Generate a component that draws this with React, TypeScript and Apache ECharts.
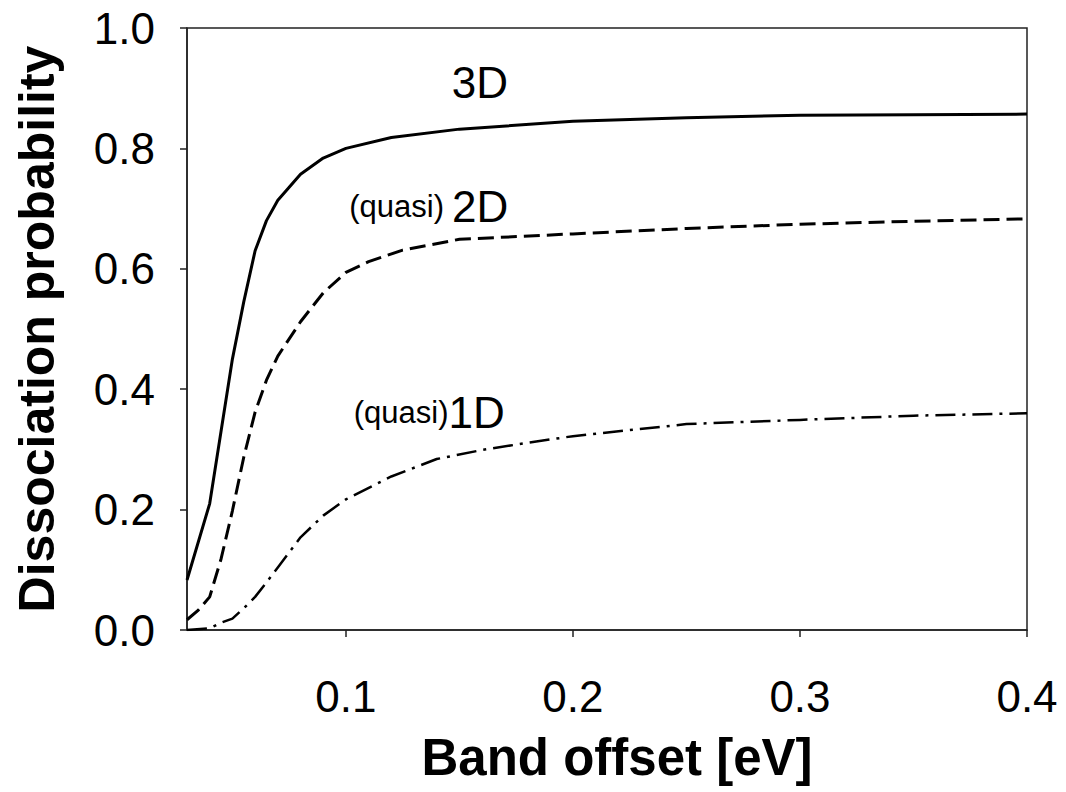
import React, { useEffect, useRef } from "react";
import * as echarts from "echarts";

// Band offset [eV] and dissociation probability
const x3D = [0.03, 0.04, 0.045, 0.05, 0.055, 0.06, 0.065, 0.07, 0.08, 0.09, 0.1, 0.12, 0.15, 0.2, 0.25, 0.3, 0.35, 0.4];
const y3D = [0.083, 0.21, 0.33, 0.45, 0.545, 0.63, 0.68, 0.714, 0.757, 0.784, 0.8, 0.818, 0.832, 0.845, 0.851, 0.855, 0.856, 0.857];

const x2D = [0.03, 0.035, 0.04, 0.045, 0.05, 0.055, 0.06, 0.065, 0.07, 0.08, 0.09, 0.1, 0.11, 0.125, 0.15, 0.2, 0.25, 0.3, 0.35, 0.4];
const y2D = [0.017, 0.033, 0.055, 0.118, 0.198, 0.287, 0.362, 0.415, 0.455, 0.512, 0.56, 0.594, 0.612, 0.631, 0.649, 0.658, 0.667, 0.674, 0.679, 0.683];

const x1D = [0.03, 0.04, 0.045, 0.05, 0.055, 0.06, 0.065, 0.07, 0.08, 0.09, 0.1, 0.12, 0.14, 0.16, 0.18, 0.2, 0.25, 0.3, 0.35, 0.4];
const y1D = [0.0, 0.003, 0.012, 0.019, 0.036, 0.055, 0.079, 0.104, 0.154, 0.19, 0.217, 0.255, 0.284, 0.299, 0.311, 0.322, 0.342, 0.349, 0.356, 0.36];

const xTicks = [0.1, 0.2, 0.3, 0.4];

// annotation anchors (data coordinates)
const label3D = [0.159, 0.909];
const label2D = [0.1365, 0.703];
const label1D = [0.1367, 0.362];

const FONT = 'Arial, "Liberation Sans", sans-serif';

const zip = (xs: number[], ys: number[]) => xs.map((x, i) => [x, ys[i]]);

const rich = {
  s: { fontSize: 31, fontFamily: FONT, color: "#000", verticalAlign: "middle" as const },
  g: { fontSize: 31, fontFamily: FONT, color: "#000", width: 8 },
  b: { fontSize: 44, fontFamily: FONT, color: "#000", verticalAlign: "middle" as const },
};

const annotation = (coord: number[], text: string) => ({
  symbol: "circle",
  symbolSize: 0,
  silent: true,
  label: { show: true, position: "inside", formatter: text, rich },
  data: [{ coord }],
});

export default function App() {
  const ref = useRef<HTMLDivElement>(null);
  useEffect(() => {
    if (!ref.current) return;
    const chart = echarts.init(ref.current, null, { renderer: "svg" });
    chart.setOption({
      animation: false,
      backgroundColor: "#fff",
      grid: {
        left: 187,
        right: 39,
        top: 28,
        bottom: 162,
        show: true,
        borderColor: "#222",
        borderWidth: 1.5,
      },
      xAxis: {
        type: "value",
        min: 0.03,
        max: 0.4,
        name: "Band offset [eV]",
        nameLocation: "middle",
        nameGap: 102,
        nameTextStyle: { fontSize: 51, fontWeight: "bold", fontFamily: FONT, color: "#000", padding: [0, 0, 0, 20] },
        axisLine: { show: true, lineStyle: { color: "#222", width: 1.5 } },
        axisTick: { show: true, inside: false, length: 7, customValues: xTicks, lineStyle: { color: "#222", width: 1.5 } },
        axisLabel: {
          customValues: xTicks,
          margin: 44,
          fontSize: 44,
          fontFamily: FONT,
          color: "#000",
          formatter: (v: number) => v.toFixed(1),
        },
        splitLine: { show: false },
      },
      yAxis: {
        type: "value",
        min: 0,
        max: 1,
        interval: 0.2,
        name: "Dissociation probability",
        nameLocation: "middle",
        nameGap: 125,
        nameTextStyle: { fontSize: 50, fontWeight: "bold", fontFamily: FONT, color: "#000" },
        axisLine: { show: true, lineStyle: { color: "#222", width: 1.5 } },
        axisTick: { show: true, inside: false, length: 7, lineStyle: { color: "#222", width: 1.5 } },
        axisLabel: {
          margin: 32,
          fontSize: 44,
          fontFamily: FONT,
          color: "#000",
          formatter: (v: number) => v.toFixed(1),
        },
        splitLine: { show: false },
      },
      series: [
        {
          name: "3D",
          type: "line",
          data: zip(x3D, y3D),
          symbol: "none",
          lineStyle: { color: "#000", width: 3, type: "solid" },
          markPoint: annotation(label3D, "{b|3D}"),
        },
        {
          name: "(quasi) 2D",
          type: "line",
          data: zip(x2D, y2D),
          symbol: "none",
          lineStyle: { color: "#000", width: 3, type: [16, 7] },
          markPoint: annotation(label2D, "{s|(quasi)}{g| }{b|2D}"),
        },
        {
          name: "(quasi)1D",
          type: "line",
          data: zip(x1D, y1D),
          symbol: "none",
          lineStyle: { color: "#000", width: 2.5, type: [20, 7, 3, 7] },
          markPoint: annotation(label1D, "{s|(quasi)}{b|1D}"),
        },
      ],
    });
    return () => chart.dispose();
  }, []);
  return <div ref={ref} style={{ position: "fixed", left: 0, top: 0, width: 1066, height: 792 }} />;
}
